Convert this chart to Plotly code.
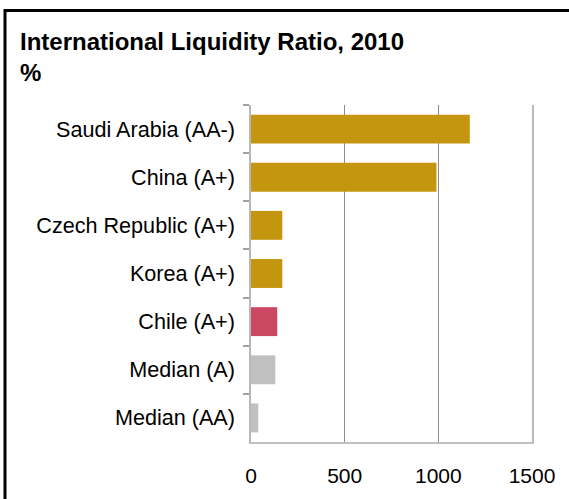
import plotly.graph_objects as go

# Data
categories = [
    "Saudi Arabia (AA-)",
    "China (A+)",
    "Czech Republic (A+)",
    "Korea (A+)",
    "Chile (A+)",
    "Median (A)",
    "Median (AA)",
]
ratio_pct = [1168, 990, 167, 167, 140, 130, 39]
bar_colors = ["#C4960F", "#C4960F", "#C4960F", "#C4960F", "#CC4862", "#C0C0C0", "#C0C0C0"]
x_ticks = [0, 500, 1000, 1500]

W, H = 569, 499
ML, MR, MT, MB = 251, 37, 105, 57
PW, PH = W - ML - MR, H - MT - MB


def px_x(p):
    return (p - ML) / PW


def px_y(p):
    return (H - MB - p) / PH


FONT = "Arial, 'Liberation Sans', sans-serif"

fig = go.Figure(
    go.Bar(
        x=ratio_pct,
        y=categories,
        orientation="h",
        marker=dict(color=bar_colors, line=dict(width=0)),
        width=0.6,
        hoverinfo="skip",
    )
)

fig.update_layout(
    width=W,
    height=H,
    margin=dict(l=ML, r=MR, t=MT, b=MB),
    paper_bgcolor="white",
    plot_bgcolor="white",
    showlegend=False,
    font=dict(family=FONT, color="black"),
    title=dict(
        text="<b>International Liquidity Ratio, 2010</b><br><b>%</b>",
        x=20 / W,
        xanchor="left",
        xref="container",
        y=1 - 50 / H,
        yanchor="top",
        yref="container",
        font=dict(family=FONT, size=24, color="black"),
    ),
    xaxis=dict(
        range=[0, 1500],
        tickvals=x_ticks,
        ticktext=[str(v) for v in x_ticks],
        tickfont=dict(size=21, color="black"),
        showgrid=True,
        gridcolor="#8C8C8C",
        gridwidth=1,
        zeroline=False,
        showline=True,
        linecolor="#C0C0C0",
        linewidth=1.5,
        ticks="",
        ticklabelstandoff=14,
        fixedrange=True,
    ),
    yaxis=dict(
        categoryorder="array",
        categoryarray=categories,
        autorange="reversed",
        tickfont=dict(size=21.6, color="black"),
        showline=True,
        mirror=True,
        linecolor="#B8B8B8",
        linewidth=1.5,
        ticks="outside",
        tickson="boundaries",
        ticklen=6,
        tickcolor="#A0A0A0",
        tickwidth=1.5,
        showgrid=False,
        ticklabelstandoff=10,
        fixedrange=True,
    ),
    shapes=[
        dict(
            type="rect",
            xref="paper",
            yref="paper",
            x0=px_x(5),
            y0=px_y(10.5),
            x1=px_x(W + 20),
            y1=px_y(H + 20),
            line=dict(color="black", width=3),
            fillcolor="rgba(0,0,0,0)",
            layer="above",
        )
    ],
)

fig.write_html("out.html")
